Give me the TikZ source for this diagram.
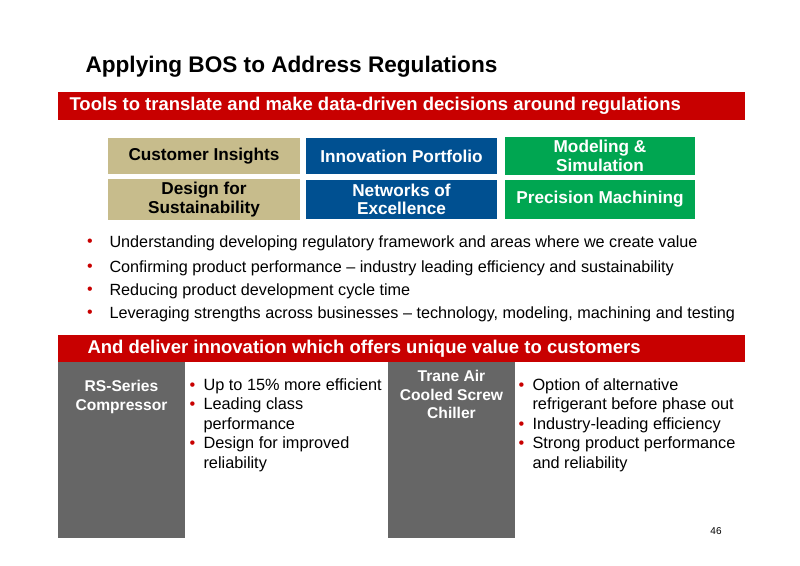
\documentclass[tikz,border=0pt]{standalone}
\usepackage{fontspec}
\setmainfont{Liberation Sans}
\begin{document}
\begin{tikzpicture}[x=1pt,y=-1pt,
  bantext/.style={anchor=west,text=white,font=\fontsize{18.5}{20}\selectfont\bfseries},
  tool/.style={draw=none,text=white,font=\fontsize{17.2}{18.5}\selectfont\bfseries,align=center},
  gtext/.style={text=white,font=\fontsize{15.6}{18.5}\selectfont\bfseries,align=center,anchor=north},
  btxt/.style={anchor=west,font=\fontsize{16.2}{18}\selectfont},
  bdot/.style={text=bred,font=\fontsize{16}{18}\selectfont},
  plist/.style={anchor=north west,align=left,font=\fontsize{16.3}{19.5}\selectfont}]
\definecolor{bred}{RGB}{200,0,0}
\definecolor{tan}{RGB}{199,188,140}
\definecolor{bblue}{RGB}{0,80,145}
\definecolor{bgreen}{RGB}{0,166,81}
\definecolor{gbox}{RGB}{102,102,102}
\newcommand{\rb}{\makebox[14pt][l]{\textcolor{bred}{\textbullet}}}
\newcommand{\pb}{\hspace*{14pt}}
\useasboundingbox (0,0) rectangle (800,565);
\node[anchor=west,font=\fontsize{22.6}{24}\selectfont\bfseries] (title) at (82,67) {Applying BOS to Address Regulations};
\fill[bred] (58,92) rectangle (745,120);
\node[bantext] (b1) at (66,106) {Tools to translate and make data-driven decisions around regulations};
\node[tool,fill=tan,text=black,minimum width=192,minimum height=36] (ci) at (204,156) {Customer Insights};
\node[tool,fill=bblue,minimum width=191,minimum height=36] (ip) at (401.5,156) {Innovation Portfolio};
\node[tool,fill=bgreen,minimum width=190,minimum height=36] (ms) at (600,156) {Modeling \&\\Simulation};
\node[tool,fill=tan,text=black,minimum width=192,minimum height=39] (ds) at (204,199.5) {Design for\\Sustainability};
\node[tool,fill=bblue,minimum width=191,minimum height=39] (ne) at (401.5,199.5) {Networks of\\Excellence};
\node[tool,fill=bgreen,minimum width=190,minimum height=39] (pm) at (600,199.5) {Precision Machining};
\foreach \y/\t [count=\i] in {243/Understanding developing regulatory framework and areas where we create value,
  268/Confirming product performance -- industry leading efficiency and sustainability,
  291/Reducing product development cycle time,
  314/Leveraging strengths across businesses -- technology{,} modeling{,} machining and testing}{
  \node[bdot] (d\i) at (90,\y) {\textbullet};
  \node[btxt] (t\i) at (106,\y) {\t};
}
\fill[bred] (58,335) rectangle (745,362);
\node[bantext] (b2) at (84,348.5) {And deliver innovation which offers unique value to customers};
\fill[gbox] (58,362) rectangle (185,538);
\fill[gbox] (388,362) rectangle (515,538);
\node[gtext] (rs) at (121.5,377) {RS-Series\\Compressor};
\node[gtext] (tr) at (451.5,367) {Trane Air\\Cooled Screw\\Chiller};
\node[plist] (l1) at (186,375) {\rb Up to 15\% more efficient\\
\rb Leading class\\\pb performance\\
\rb Design for improved\\\pb reliability};
\node[plist] (l2) at (515,375) {\rb Option of alternative\\
\pb refrigerant before phase out\\
\rb Industry-leading efficiency\\
\rb Strong product performance\\\pb and reliability};
\node[font=\fontsize{10}{12}\selectfont] (pg) at (716,531) {46};
\end{tikzpicture}
\end{document}
